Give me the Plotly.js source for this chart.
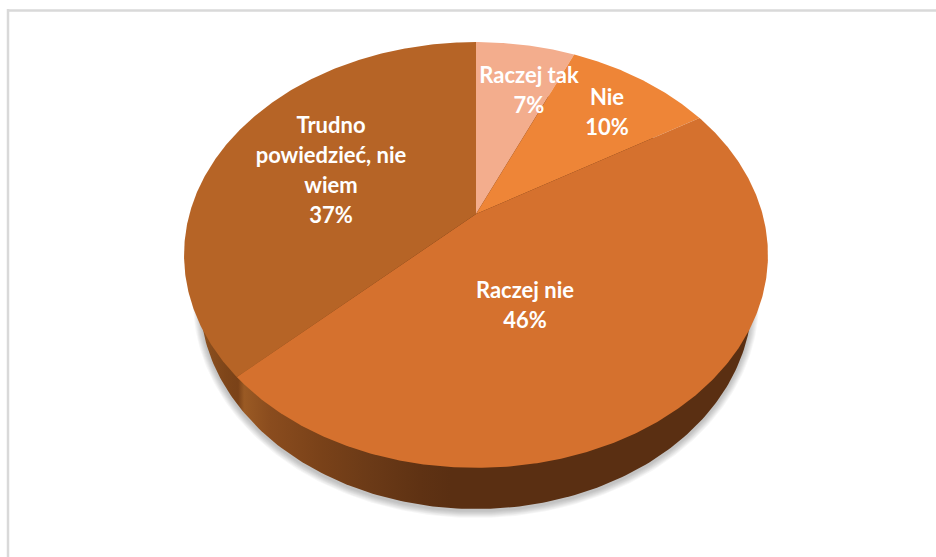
<!DOCTYPE html>
<html>
<head>
<meta charset="utf-8">
<script src="https://cdn.plot.ly/plotly-3.0.1.min.js"></script>
<style>html,body{margin:0;padding:0;background:#fff}#chart{width:936px;height:557px}</style>
</head>
<body>
<div id="chart"></div>
<script>
// Data
const categories = ["Raczej tak", "Nie", "Raczej nie", "Trudno powiedzieć, nie wiem"];
const values = [6.6, 9.8, 46.49, 37.11];
const colors = ["#F3AD8D", "#EE8537", "#D5712E", "#B66426"];
const wrappedNames = [["Raczej tak"], ["Nie"], ["Raczej nie"], ["Trudno", "powiedzieć, nie", "wiem"]];
const labelCenters = [[529, 77], [607, 99], [525, 292], [331, 127]];

// Projection of the tilted disc onto the page
const apex = {x: 476, y: 214}, A = 286.5, B = 205, k = 0.1925;
function rim(deg) {
  const t = deg * Math.PI / 180, X = Math.sin(t), Y = Math.cos(t), w = 1 + k * Y;
  return [apex.x + A * X / w, apex.y - B * Y / w];
}
function ellipse(cx, cy, rx, ry) {
  const xs = [], ys = [];
  for (let d = 0; d <= 360; d += 1) {
    const t = d * Math.PI / 180;
    xs.push(cx + rx * Math.cos(t)); ys.push(cy + ry * Math.sin(t));
  }
  return {xs, ys};
}
const base = {type: "scatter", mode: "lines", fill: "toself", line: {width: 0}, hoverinfo: "skip", showlegend: false};
const traces = [];

// soft shadow
for (let d = 7; d >= 1; d--) {
  const e = ellipse(476, 301, 276 + d, 210 + d);
  traces.push({...base, x: e.xs, y: e.ys, fillcolor: "rgba(0,0,0,0.035)"});
}

// side wall
const sideL = 200, sideW = 552;
const stops = [[200, "#8F5220"], [226, "#7E4519"], [238, "#7A4218"], [244, "#9A5A24"], [270, "#8A4C1E"],
               [320, "#7A4219"], [370, "#6B3A17"], [420, "#5F3213"], [450, "#5A2F12"], [752, "#5A2F12"]];
const side = ellipse(476, 299, 276, 210);
traces.push({...base, x: side.xs, y: side.ys, fillcolor: "#5A2F12",
  fillgradient: {type: "horizontal", colorscale: stops.map(s => [(s[0] - sideL) / sideW, s[1]])}});

// top-face wedges
const total = values.reduce((a, b) => a + b, 0);
let cum = 0;
values.forEach((v, i) => {
  const a0 = cum / total * 360; cum += v; const a1 = cum / total * 360;
  const xs = [apex.x], ys = [apex.y];
  for (let a = a0; a < a1; a += 0.5) { const p = rim(a); xs.push(p[0]); ys.push(p[1]); }
  const p = rim(a1); xs.push(p[0], apex.x); ys.push(p[1], apex.y);
  traces.push({...base, name: categories[i], x: xs, y: ys, fillcolor: colors[i]});
});

// labels
const lineGap = 30;
const lx = [], ly = [], lt = [];
values.forEach((v, i) => {
  const lines = wrappedNames[i].concat([Math.round(v) + "%"]);
  lines.forEach((s, j) => { lx.push(labelCenters[i][0]); ly.push(labelCenters[i][1] + j * lineGap); lt.push(s); });
});
traces.push({type: "scatter", mode: "text", x: lx, y: ly, text: lt, textposition: "middle center",
  textfont: {family: "Lato, 'Open Sans', sans-serif", size: 22, color: "#FFFFFF", weight: 700},
  hoverinfo: "skip", showlegend: false, cliponaxis: false});

const layout = {
  width: 936, height: 557, margin: {l: 0, r: 0, t: 0, b: 0},
  paper_bgcolor: "#FFFFFF", plot_bgcolor: "#FFFFFF", showlegend: false,
  xaxis: {range: [0, 936], visible: false, fixedrange: true},
  yaxis: {range: [557, 0], visible: false, fixedrange: true},
  shapes: [
    {type: "line", xref: "x", yref: "y", x0: 8, x1: 936, y0: 10.5, y1: 10.5, line: {color: "#D9D9D9", width: 2.5}},
    {type: "line", xref: "x", yref: "y", x0: 8, x1: 8, y0: 9, y1: 557, line: {color: "#D9D9D9", width: 2.5}}
  ]
};
Plotly.newPlot("chart", traces, layout, {displayModeBar: false, staticPlot: true});
</script>
</body>
</html>
